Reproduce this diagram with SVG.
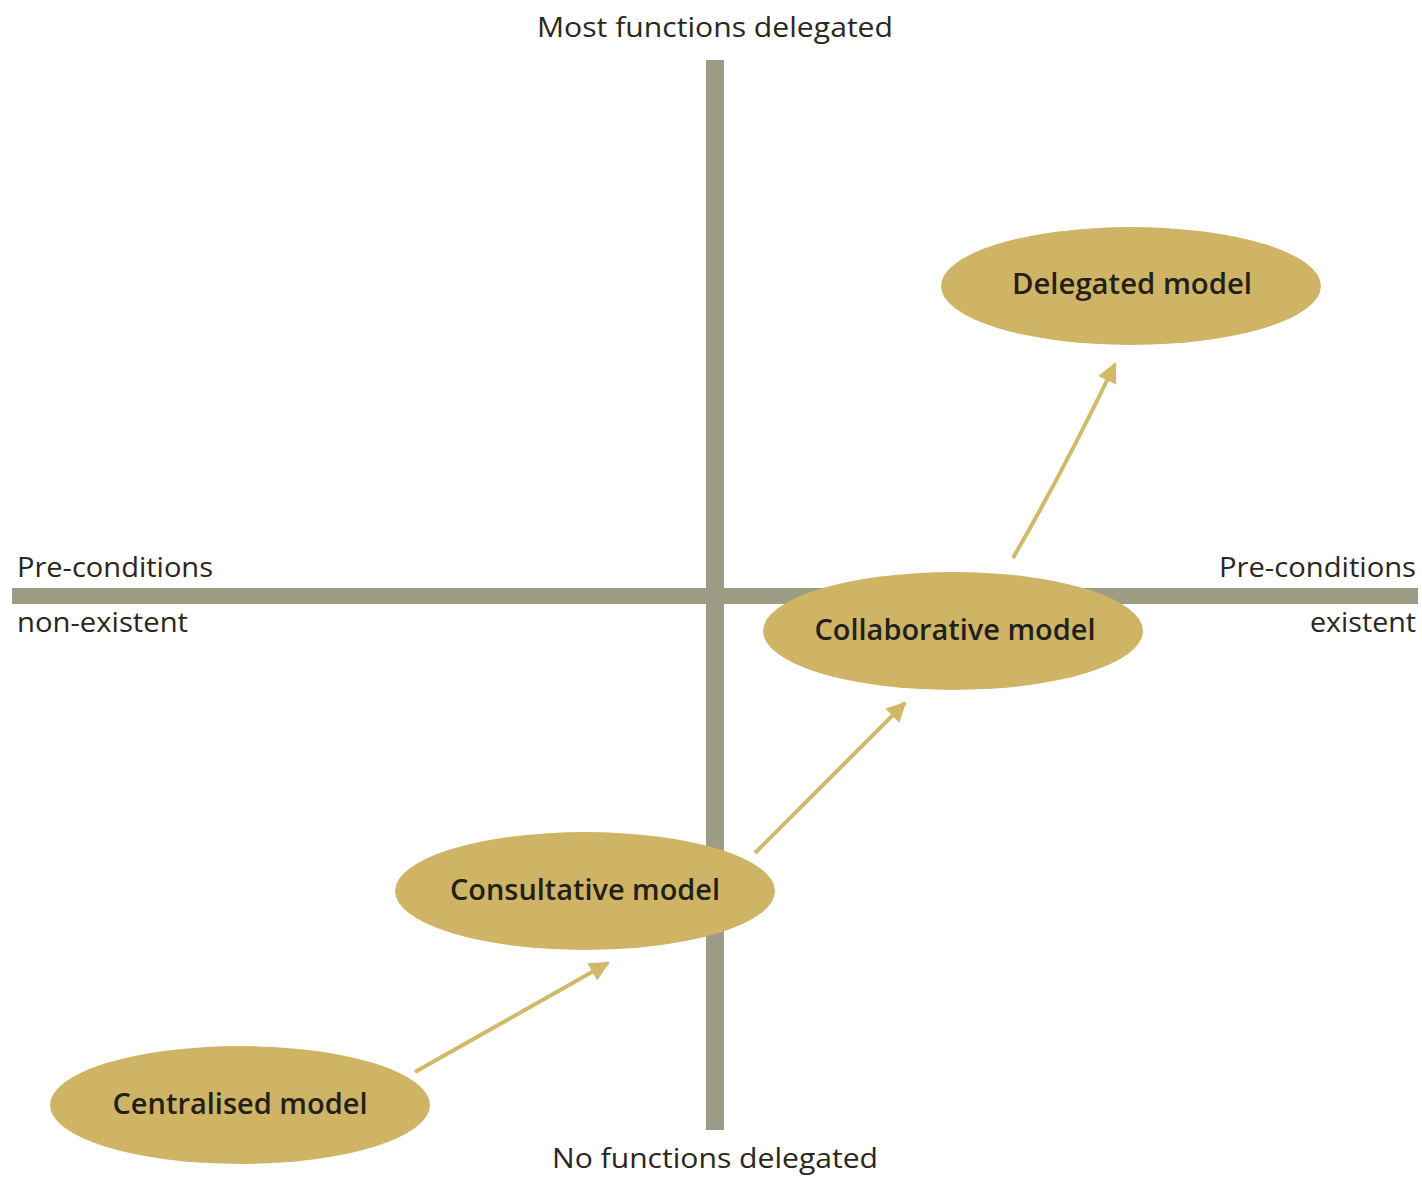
<svg xmlns="http://www.w3.org/2000/svg" width="1422" height="1177" viewBox="0 0 1422 1177">
<style>
.axis{fill:#9d9d85}
.node ellipse{fill:#cfb466}
.t{font-family:"Open Sans","Liberation Sans",sans-serif;font-size:28px;fill:#2b2620}
.node text{font-weight:600;fill:#231f1a}
.n{text-anchor:middle}
.c{stroke:#d2b96a;stroke-width:4;fill:none;marker-end:url(#ah)}
</style>
<defs>
<marker id="ah" viewBox="0 0 10 10" refX="9" refY="5" markerWidth="7.5" markerHeight="5" markerUnits="strokeWidth" orient="auto">
<path d="M0,0 L10,5 L0,10 Z" fill="#d2b96a"/>
</marker>
</defs>
<rect width="1422" height="1177" fill="#ffffff"/>
<g id="axes">
<rect class="axis" x="706" y="60" width="18" height="1070"/>
<rect class="axis" x="12" y="588" width="1406" height="16"/>
</g>
<g id="axis-labels">
<text class="t n" x="715" y="37" textLength="356" lengthAdjust="spacingAndGlyphs">Most functions delegated</text>
<text class="t n" x="715" y="1168" textLength="326" lengthAdjust="spacingAndGlyphs">No functions delegated</text>
<text class="t" x="17" y="577" textLength="196" lengthAdjust="spacingAndGlyphs">Pre-conditions</text>
<text class="t" x="17" y="632" textLength="171" lengthAdjust="spacingAndGlyphs">non-existent</text>
<text class="t" x="1416" y="577" text-anchor="end" textLength="197" lengthAdjust="spacingAndGlyphs">Pre-conditions</text>
<text class="t" x="1416" y="632" text-anchor="end" textLength="106" lengthAdjust="spacingAndGlyphs">existent</text>
</g>
<g id="connectors">
<path class="c" d="M415,1072 L608,963"/>
<path class="c" d="M755,853 L905,703"/>
<path class="c" d="M1013,558 Q1065,468 1115,364"/>
</g>
<g id="delegated" class="node">
<ellipse cx="1131" cy="286" rx="190" ry="59"/>
<text class="t n" x="1132" y="294" textLength="240" lengthAdjust="spacingAndGlyphs">Delegated model</text>
</g>
<g id="collaborative" class="node">
<ellipse cx="953" cy="631" rx="190" ry="59"/>
<text class="t n" x="955" y="640" textLength="281" lengthAdjust="spacingAndGlyphs">Collaborative model</text>
</g>
<g id="consultative" class="node">
<ellipse cx="585" cy="891" rx="190" ry="59"/>
<text class="t n" x="585" y="900" textLength="270" lengthAdjust="spacingAndGlyphs">Consultative model</text>
</g>
<g id="centralised" class="node">
<ellipse cx="240" cy="1105" rx="190" ry="59"/>
<text class="t n" x="240" y="1114" textLength="255" lengthAdjust="spacingAndGlyphs">Centralised model</text>
</g>
</svg>
